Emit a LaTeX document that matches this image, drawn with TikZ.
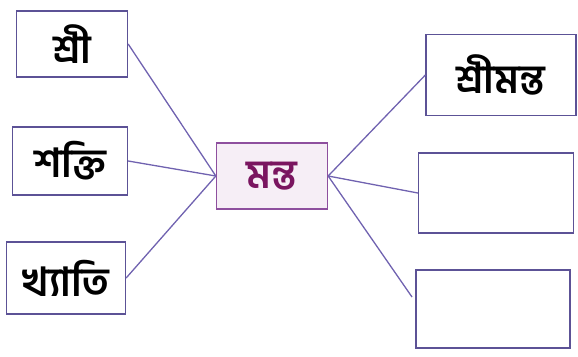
\documentclass[tikz,border=0pt]{standalone}
\usepackage{fontspec}
\newfontfamily\bnfont[Script=Bengali]{Hind Siliguri}
\definecolor{linecol}{HTML}{7062B0}
\definecolor{boxcol}{HTML}{5C5296}
\definecolor{midcol}{HTML}{8E4F9E}
\definecolor{midfill}{HTML}{F6EEF6}
\definecolor{midtext}{HTML}{7A1560}

\begin{document}
\begin{tikzpicture}[x=1pt, y=-1pt,
    wordbox/.style={draw=boxcol, line width=1.3pt, fill=white, inner sep=0pt,
      font=\bnfont\bfseries\fontsize{40}{44}\selectfont},
    rootbox/.style={wordbox, draw=midcol, fill=midfill, text=midtext},
    link/.style={draw=linecol, line width=1.3pt}]
      \useasboundingbox (0,0) rectangle (578,356);

      % Left words
      \node[wordbox, minimum width=111pt, minimum height=66pt] (sri) at (72,44) {শ্রী};
      \node[wordbox, minimum width=115pt, minimum height=68pt] (sakti) at (70,161) {শক্তি};
      \node[wordbox, minimum width=119pt, minimum height=72pt] (khyati) at (66,278) {খ্যাতি};

      % Root word
      \node[rootbox, minimum width=111pt, minimum height=66pt] (manta) at (272,176) {মন্ত};

      % Right words
      \node[wordbox, minimum width=150pt, minimum height=81pt] (srimanta) at (501,75) {শ্রীমন্ত};
      \node[wordbox, minimum width=155pt, minimum height=80pt] (blankA) at (496,193) {};
      \node[wordbox, minimum width=154pt, minimum height=78pt] (blankB) at (493,309) {};
      \coordinate (loose) at (412,297);

      % Connectors
      \foreach \w in {sri, sakti, khyati}
        \draw[link] (\w.east) -- (manta.west);
      \foreach \w in {srimanta, blankA}
        \draw[link] (manta.east) -- (\w.west);
      \draw[link] (manta.east) -- (loose);

    \end{tikzpicture}
\end{document}
